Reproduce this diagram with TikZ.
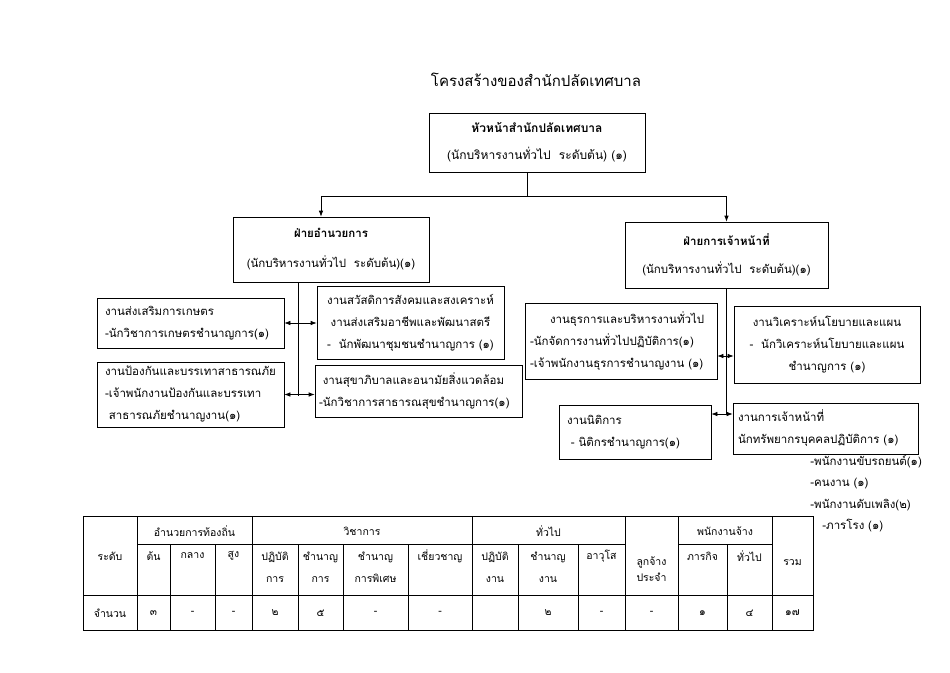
\documentclass[tikz,border=0pt]{standalone}
\usepackage{fontspec}
\setmainfont[Script=Thai]{Loma}
\usetikzlibrary{arrows.meta}
\usetikzlibrary{positioning}
\usetikzlibrary{calc}
\tikzset{
  unitbox/.style={draw,line width=0.7pt,inner sep=0pt,align=center,font=\fontsize{11.5}{22}\selectfont},
  leftbox/.style={draw,line width=0.7pt,inner ysep=0pt,inner xsep=8pt,align=left,font=\fontsize{11.5}{22}\selectfont},
  link/.style={line width=0.7pt,>={Latex[length=6pt,width=4.5pt]}},
  cell/.style={inner sep=0pt,align=center,font=\fontsize{10.5}{22}\selectfont},
  grid/.style={line width=0.7pt},
}

\begin{document}
\begin{tikzpicture}[x=1pt,y=-1pt]
  \useasboundingbox (0,0) rectangle (950,672);
  % title
  \node[font=\fontsize{15}{18}\selectfont] (title) at (536,80) {โครงสร้างของสำนักปลัดเทศบาล};
  % head
  \node[unitbox,font=\fontsize{12}{22}\selectfont,minimum width=216pt,minimum height=59pt] (head) at (537,142.5)
    {\textbf{หัวหน้าสำนักปลัดเทศบาล}\\[5pt](นักบริหารงานทั่วไป\ \ ระดับต้น) (๑)};
  \node[unitbox,minimum width=196pt,minimum height=65pt] (adm) at (331,249.5)
    {\textbf{ฝ่ายอำนวยการ}\\[8pt](นักบริหารงานทั่วไป\ \ ระดับต้น)(๑)};
  \node[unitbox,minimum width=203pt,minimum height=66pt] (hr) at (726.5,255)
    {\textbf{ฝ่ายการเจ้าหน้าที่}\\[6pt](นักบริหารงานทั่วไป\ \ ระดับต้น)(๑)};
  % left branch
  \node[leftbox,text width=171pt,minimum height=50pt] (agri) at (190.5,323)
    {งานส่งเสริมการเกษตร\\-นักวิชาการเกษตรชำนาญการ(๑)};
  \node[unitbox,minimum width=187pt,minimum height=73pt] (welf) at (410.5,322.5)
    {งานสวัสดิการสังคมและสงเคราะห์\\งานส่งเสริมอาชีพและพัฒนาสตรี\\-\ \ นักพัฒนาชุมชนชำนาญการ (๑)};
  \node[leftbox,text width=171pt,minimum height=65pt] (disas) at (190.5,394.5)
    {งานป้องกันและบรรเทาสาธารณภัย\\-เจ้าพนักงานป้องกันและบรรเทา\\\ สาธารณภัยชำนาญงาน(๑)};
  \node[leftbox,text width=199pt,inner xsep=4pt,minimum height=52pt] (sanit) at (418.5,391)
    {\ งานสุขาภิบาลและอนามัยสิ่งแวดล้อม\\-นักวิชาการสาธารณสุขชำนาญการ(๑)};
  % right branch
  \node[leftbox,text width=182pt,inner xsep=5pt,minimum height=76pt] (gen) at (621,341)
    {\hspace*{20pt}งานธุรการและบริหารงานทั่วไป\\-นักจัดการงานทั่วไปปฏิบัติการ(๑)\\-เจ้าพนักงานธุรการชำนาญงาน (๑)};
  \node[unitbox,minimum width=186pt,minimum height=77pt] (plan) at (827,344.5)
    {งานวิเคราะห์นโยบายและแผน\\-\ \ นักวิเคราะห์นโยบายและแผน\\ชำนาญการ (๑)};
  \node[leftbox,text width=136pt,minimum height=54pt] (law) at (635,432)
    {งานนิติการ\\\ - นิติกรชำนาญการ(๑)};
  \node[leftbox,text width=175pt,inner xsep=5pt,minimum height=51pt] (pers) at (825.5,428.5)
    {งานการเจ้าหน้าที่\\นักทรัพยากรบุคคลปฏิบัติการ (๑)};
  \node[leftbox,draw=none,anchor=north west,inner sep=0pt,font=\fontsize{11.5}{21.5}\selectfont] (staff) at (810,455)
    {-พนักงานขับรถยนต์(๑)\\-คนงาน (๑)\\-พนักงานดับเพลิง(๒)\\\hspace*{12pt}-ภารโรง (๑)};

  % connectors
  \coordinate (split) at (527,196);
  \coordinate (ltrunk) at (298,396);
  \coordinate (rtrunk) at (726.5,414);
  \draw[link] (head.south -| split) -- (split);
  \draw[link,->] (split) -| ([xshift=-10pt]adm.north);
  \draw[link,->] (split) -| (hr.north);
  \draw[link] (adm.south -| ltrunk) -- (ltrunk);
  \draw[link,<->] (agri.east) -- (agri.east -| welf.west);
  \draw[link,<->] (disas.east) -- (disas.east -| sanit.west);
  \draw[link] (hr.south) -- (rtrunk);
  \draw[link,<->] ([yshift=-15pt]gen.east) -- ([yshift=-15pt]gen.east -| plan.west);
  \draw[link,<->] ([yshift=18pt]law.east) -- ([yshift=18pt]law.east -| pers.west);

  % table
  \draw[grid] (83,516) rectangle (813,630);
  \draw[grid] (137,544) -- (625,544) (678,544) -- (772,544);
  \draw[grid] (83,595) -- (813,595);
  \foreach \x in {137,252,472,625,678,772}
    \draw[grid] (\x,516) -- (\x,630);
  \foreach \x in {170,215,298,343,408,518,578,727}
    \draw[grid] (\x,544) -- (\x,630);
  \node[cell] (lvl) at (110,556) {ระดับ};
  \node[cell] (local) at (194.5,531) {อำนวยการท้องถิ่น};
  \node[cell] (acad) at (362,531) {วิชาการ};
  \node[cell] (gener) at (548.5,531) {ทั่วไป};
  \node[cell,font=\fontsize{10.5}{16}\selectfont] (perm) at (651.5,569) {ลูกจ้าง\\ประจำ};
  \node[cell] (emp) at (725,531) {พนักงานจ้าง};
  \node[cell] (total) at (792.5,563) {รวม};
  \foreach \x/\t [count=\i] in {153.5/ต้น,192.5/กลาง,233.5/สูง,440/เชี่ยวชาญ,601.5/อาวุโส,702.5/ภารกิจ,749.5/ทั่วไป}
    \node[cell] (sub\i) at (\x,556) {\t};
  \foreach \x/\t [count=\i] in {275/ปฏิบัติ\\การ,320.5/ชำนาญ\\การ,375.5/ชำนาญ\\การพิเศษ,495/ปฏิบัติ\\งาน,548/ชำนาญ\\งาน}
    \node[cell] (two\i) at (\x,567) {\t};
  \foreach \x/\t [count=\i] in {110/จำนวน,153.5/๓,192.5/-,233.5/-,275/๒,320.5/๕,375.5/-,440/-,548/๒,601.5/-,651.5/-,702.5/๑,749.5/๔,792.5/๑๗}
    \node[cell] (num\i) at (\x,613) {\t};
\end{tikzpicture}
\end{document}
